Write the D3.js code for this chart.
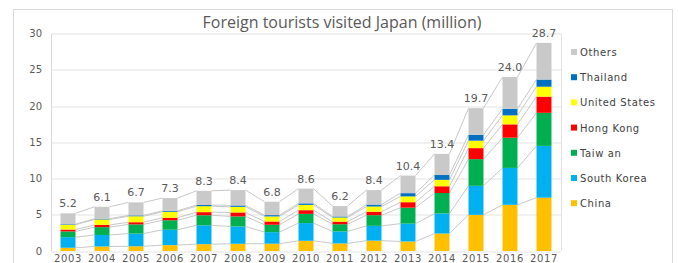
<!DOCTYPE html>
<html>
<head>
<meta charset="utf-8">
<script src="https://cdn.jsdelivr.net/npm/d3@7"></script>
<style>
  body { margin: 0; background: #fff; }
  svg { display: block; font-family: "Open Sans", "DejaVu Sans", sans-serif; }
</style>
</head>
<body>
<div id="chart"></div>
<script>
// data (million visitors)
var years = ["2003", "2004", "2005", "2006", "2007", "2008", "2009", "2010",
             "2011", "2012", "2013", "2014", "2015", "2016", "2017"];
var totals = [5.2, 6.1, 6.7, 7.3, 8.3, 8.4, 6.8, 8.6, 6.2, 8.4, 10.4, 13.4, 19.7, 24.0, 28.7];
var china      = [0.45, 0.62, 0.65, 0.81, 0.94, 1.00, 1.01, 1.41, 1.04, 1.43, 1.31, 2.41, 4.99, 6.37, 7.36];
var southKorea = [1.46, 1.59, 1.75, 2.12, 2.60, 2.38, 1.59, 2.44, 1.66, 2.04, 2.46, 2.76, 4.00, 5.09, 7.14];
var taiwan     = [0.79, 1.08, 1.27, 1.31, 1.39, 1.39, 1.02, 1.27, 0.99, 1.47, 2.21, 2.83, 3.68, 4.17, 4.56];
var hongKong   = [0.26, 0.30, 0.30, 0.35, 0.43, 0.55, 0.45, 0.51, 0.36, 0.48, 0.75, 0.93, 1.52, 1.84, 2.23];
var usa        = [0.66, 0.76, 0.82, 0.82, 0.82, 0.77, 0.70, 0.73, 0.57, 0.72, 0.80, 0.89, 1.03, 1.24, 1.37];
var thailand   = [0.08, 0.10, 0.12, 0.13, 0.17, 0.19, 0.18, 0.21, 0.14, 0.26, 0.45, 0.66, 0.80, 0.90, 0.99];
var yTicks = [0, 5, 10, 15, 20, 25, 30];

var seriesNames = ["China", "South Korea", "Taiw an", "Hong Kong", "United States", "Thailand", "Others"];
var seriesColors = ["#ffc000", "#00b0f0", "#00b050", "#ff0000", "#ffff00", "#0070c0", "#c9c9c9"];

// others = total minus listed countries
var others = years.map(function (y, i) {
    return +(totals[i] - china[i] - southKorea[i] - taiwan[i] - hongKong[i] - usa[i] - thailand[i]).toFixed(2);
});

var rows = years.map(function (y, i) {
    return {
        year: y, total: totals[i],
        "China": china[i], "South Korea": southKorea[i], "Taiw an": taiwan[i],
        "Hong Kong": hongKong[i], "United States": usa[i], "Thailand": thailand[i], "Others": others[i]
    };
});

var W = 678, H = 263;
var margin = {top: 33.5, right: 117, bottom: 12, left: 51};
var width = W - margin.left - margin.right,
    height = H - margin.top - margin.bottom;

var svg = d3.select("#chart").append("svg")
    .attr("width", W)
    .attr("height", H);

// outer chart border
svg.append("rect")
    .attr("x", 13.5).attr("y", 9.5)
    .attr("width", 659).attr("height", 270)
    .attr("fill", "none")
    .attr("stroke", "#d9d9d9");

svg.append("text")
    .attr("x", 342).attr("y", 28)
    .attr("text-anchor", "middle")
    .attr("font-size", 16)
    .attr("fill", "#595959")
    .text("Foreign tourists visited Japan (million)");

var g = svg.append("g")
    .attr("transform", "translate(" + margin.left + "," + margin.top + ")");

var x = d3.scaleBand()
    .domain(years)
    .range([0, width])
    .paddingInner(0.56)
    .paddingOuter(0.28);

var y = d3.scaleLinear()
    .domain([0, 30])
    .range([height, 0]);

// grid
g.selectAll(".grid")
    .data(yTicks)
    .enter().append("line")
    .attr("x1", 0).attr("x2", width)
    .attr("y1", function(d) { return Math.round(y(d)) + 0.5; })
    .attr("y2", function(d) { return Math.round(y(d)) + 0.5; })
    .attr("stroke", "#e3e3e3");

g.append("line")
    .attr("x1", 0.5).attr("x2", 0.5)
    .attr("y1", 0).attr("y2", height)
    .attr("stroke", "#d9d9d9");
g.append("line")
    .attr("x1", width + 0.5).attr("x2", width + 0.5)
    .attr("y1", 0).attr("y2", height)
    .attr("stroke", "#e3e3e3");

// y axis
var yAxis = g.append("g")
    .call(d3.axisLeft(y).tickValues(yTicks).tickSize(0).tickPadding(9));
yAxis.select(".domain").remove();
yAxis.selectAll("text")
    .attr("font-size", 10)
    .attr("font-family", "DejaVu Sans, sans-serif")
    .attr("fill", "#595959");

// x axis
var xAxis = g.append("g")
    .attr("transform", "translate(0," + height + ")")
    .call(d3.axisBottom(x).tickSize(0).tickPadding(4));
xAxis.select(".domain").remove();
xAxis.selectAll("text")
    .attr("font-size", 10)
    .attr("font-family", "DejaVu Sans, sans-serif")
    .attr("letter-spacing", "0.6px")
    .attr("fill", "#595959");

var stack = d3.stack().keys(seriesNames);
var layers = stack(rows);

// series lines between bars
layers.forEach(function (layer) {
    for (var i = 0; i < layer.length - 1; i++) {
        g.append("line")
            .attr("x1", x(years[i]) + x.bandwidth())
            .attr("y1", y(layer[i][1]))
            .attr("x2", x(years[i + 1]))
            .attr("y2", y(layer[i + 1][1]))
            .attr("stroke", "#c8c8c8")
            .attr("stroke-width", 1);
    }
});

// bars
g.selectAll(".layer")
    .data(layers)
    .enter().append("g")
    .attr("class", "layer")
    .attr("fill", function(d, i) { return seriesColors[i]; })
    .selectAll("rect")
    .data(function(d) { return d; })
    .enter().append("rect")
    .attr("x", function(d) { return x(d.data.year); })
    .attr("width", x.bandwidth())
    .attr("y", function(d) { return y(d[1]); })
    .attr("height", function(d) { return y(d[0]) - y(d[1]); });

// total labels
g.selectAll(".total")
    .data(rows)
    .enter().append("text")
    .attr("x", function(d) { return x(d.year) + x.bandwidth() / 2; })
    .attr("y", function(d) { return y(d.total) - 6; })
    .attr("text-anchor", "middle")
    .attr("font-size", 11)
    .attr("font-family", "DejaVu Sans, sans-serif")
    .attr("fill", "#595959")
    .text(function(d) { return d.total.toFixed(1); });

// legend (top to bottom: Others ... China)
var legend = svg.append("g")
    .attr("transform", "translate(571,52)");
var legItems = seriesNames.slice().reverse();
var legColors = seriesColors.slice().reverse();
legItems.forEach(function (name, i) {
    var li = legend.append("g").attr("transform", "translate(0," + (i * 25.2) + ")");
    li.append("rect")
        .attr("x", 0).attr("y", -3)
        .attr("width", 6).attr("height", 6)
        .attr("fill", legColors[i]);
    li.append("text")
        .attr("x", 9).attr("y", 4)
        .attr("font-size", 10)
        .attr("font-family", "DejaVu Sans, sans-serif")
        .attr("letter-spacing", "0.6px")
        .attr("fill", "#404040")
        .text(name);
});
</script>
</body>
</html>
